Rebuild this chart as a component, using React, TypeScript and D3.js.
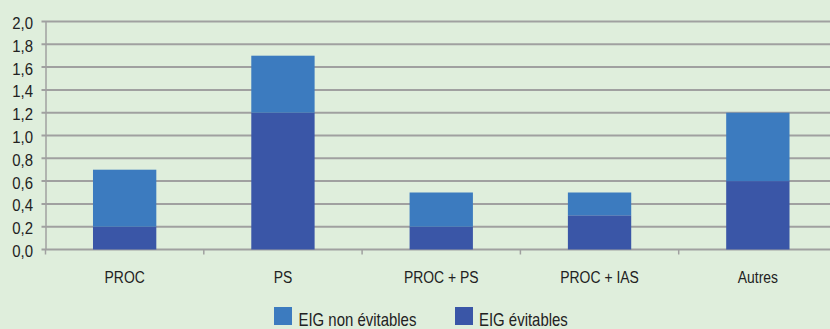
import React from 'react';
import * as d3 from 'd3';

const categories = ['PROC', 'PS', 'PROC + PS', 'PROC + IAS', 'Autres'];
const evitables = [0.2, 1.2, 0.2, 0.3, 0.6];
const nonEvitables = [0.5, 0.5, 0.3, 0.2, 0.6];
const yTicks = [0, 0.2, 0.4, 0.6, 0.8, 1.0, 1.2, 1.4, 1.6, 1.8, 2.0];
const seriesNames = ['EIG non évitables', 'EIG évitables'];

const W = 830;
const H = 329;
const BG = '#dfeedc';
const LIGHT = '#3c7bbf';
const DARK = '#3a56a7';
const GRID = '#a0a0a0';
const FONT = '"Liberation Sans", Arial, sans-serif';

// condensed text, the source used a narrow face
const NText: React.FC<{ x: number; y: number; size: number; sx: number; anchor?: string; children: React.ReactNode }> =
  ({ x, y, size, sx, anchor = 'start', children }) => (
    <text transform={`translate(${x},${y}) scale(${sx},1)`} textAnchor={anchor}
      fontFamily={FONT} fontSize={size} fill="#222">{children}</text>
  );

const App: React.FC = () => {
  const x = d3.scaleBand<string>().domain(categories).range([45.5, 837]).paddingInner(0.6).paddingOuter(0.3);
  const band = d3.scaleBand<string>().domain(categories).range([45.5, 837]);
  const y = d3.scaleLinear().domain([0, 2]).range([249.5, 21.5]);
  const fmt = (v: number) => v.toFixed(1).replace('.', ',');

  const rows = categories.map((c, i) => ({ c, ev: evitables[i], nev: nonEvitables[i] }));

  return (
    <svg width={W} height={H} style={{ position: 'absolute', left: 0, top: 0, background: BG }}>
      <rect x={0} y={0} width={W} height={H} fill={BG} />
      {/* grid + y ticks */}
      {yTicks.map(t => (
        <g key={t}>
          <line x1={41.5} x2={W} y1={y(t)} y2={y(t)} stroke={GRID} strokeWidth={2} />
          <NText x={33} y={y(t) + 7.5} size={17} sx={0.88} anchor="end">{fmt(t)}</NText>
        </g>
      ))}
      <line x1={46} x2={46} y1={y(2)} y2={y(0)} stroke={GRID} strokeWidth={1.5} />
      {/* category ticks */}
      {categories.map(c => (
        <line key={c} x1={band(c)!} x2={band(c)!} y1={y(0)} y2={y(0) + 5} stroke={GRID} strokeWidth={1.5} />
      ))}
      {/* bars */}
      {rows.map(r => (
        <g key={r.c}>
          <rect x={x(r.c)} width={x.bandwidth()} y={y(r.ev)} height={y(0) - y(r.ev)} fill={DARK} />
          <rect x={x(r.c)} width={x.bandwidth()} y={y(r.ev + r.nev)} height={y(r.ev) - y(r.ev + r.nev)} fill={LIGHT} />
          <NText x={x(r.c)! + x.bandwidth() / 2} y={283} size={17} sx={0.82} anchor="middle">{r.c}</NText>
        </g>
      ))}
      {/* legend */}
      <rect x={274} y={307} width={18} height={18} fill={LIGHT} />
      <NText x={298.5} y={326} size={18} sx={0.83}>{seriesNames[0]}</NText>
      <rect x={455} y={307} width={18} height={18} fill={DARK} />
      <NText x={479} y={326} size={18} sx={0.83}>{seriesNames[1]}</NText>
    </svg>
  );
};

export default App;
